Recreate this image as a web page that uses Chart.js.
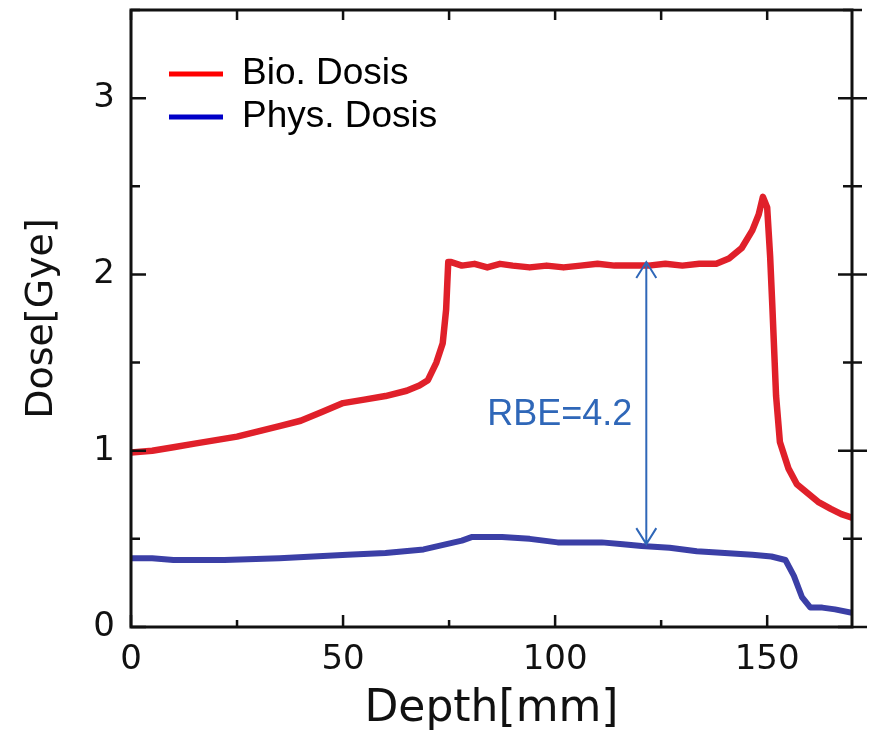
<!DOCTYPE html>
<html>
<head>
<meta charset="utf-8">
<script src="https://cdn.jsdelivr.net/npm/chart.js@4.4.1/dist/chart.umd.min.js"></script>
<style>
  html, body { margin: 0; padding: 0; background: #fff; }
  #wrap { width: 877px; height: 730px; }
</style>
</head>
<body>
<div id="wrap"><canvas id="dose-chart" width="877" height="730"></canvas></div>
<script>
// Werte
const depthBio = [0, 5, 10, 15, 20, 25, 30, 35, 40, 45, 50, 55, 60, 65, 68, 70, 72, 73.5, 74.3, 74.8, 75.5, 78, 81, 84, 87, 90, 94, 98, 102, 106, 110, 114, 118, 122, 126, 130, 134, 138, 141, 144, 146.5, 148, 149, 150, 150.7, 151.2, 152.1, 153, 155, 157, 160, 162, 165, 167.5, 170];
const doseBio = [0.99, 1.0, 1.02, 1.04, 1.06, 1.08, 1.11, 1.14, 1.17, 1.22, 1.27, 1.29, 1.31, 1.34, 1.37, 1.40, 1.50, 1.61, 1.80, 2.07, 2.07, 2.05, 2.06, 2.04, 2.06, 2.05, 2.04, 2.05, 2.04, 2.05, 2.06, 2.05, 2.05, 2.05, 2.06, 2.05, 2.06, 2.06, 2.09, 2.15, 2.25, 2.34, 2.44, 2.38, 2.10, 1.83, 1.31, 1.05, 0.90, 0.81, 0.75, 0.71, 0.67, 0.64, 0.62];

const depthPhys = [0, 5, 10, 22, 35, 51, 60, 69, 74.4, 78, 80.3, 84, 87.5, 94, 100.6, 106, 111, 116, 120.4, 127, 133.4, 140, 146.5, 151, 154.3, 156.3, 158.2, 160.2, 163, 166, 170];
const dosePhys = [0.39, 0.39, 0.38, 0.38, 0.39, 0.41, 0.42, 0.44, 0.47, 0.49, 0.51, 0.51, 0.51, 0.50, 0.48, 0.48, 0.48, 0.47, 0.46, 0.45, 0.43, 0.42, 0.41, 0.40, 0.38, 0.29, 0.17, 0.11, 0.11, 0.10, 0.08];

const seriesNames = ['Bio. Dosis', 'Phys. Dosis'];
const lineColors = ['#e0202a', '#3b3fa6'];
const legendColors = ['#ff0000', '#0000c8'];

const xTickLabels = [0, 50, 100, 150];
const yTickLabels = [0, 1, 2, 3];

// RBE-Pfeil
const arrowDepth = 121.5;
const arrowTop = 2.07;
const arrowBottom = 0.47;
const rbeText = 'RBE=4.2';
const rbeTextDose = 1.20;

const toPoints = (xs, ys) => xs.map((x, i) => ({ x: x, y: ys[i] }));

const axisFont = "'DejaVu Sans', sans-serif";
const inkColor = '#111';

// Rahmen, nach innen zeigende Ticks, Pfeil und Legende
const decorPlugin = {
    id: 'decor',
    afterDatasetsDraw(chart) {
        const { ctx, chartArea: a, scales: { x, y } } = chart;
        ctx.save();

        // Pfeil
        const ax = x.getPixelForValue(arrowDepth);
        const ay1 = y.getPixelForValue(arrowTop);
        const ay2 = y.getPixelForValue(arrowBottom);
        ctx.strokeStyle = '#2f67b8';
        ctx.lineWidth = 2;
        ctx.beginPath();
        ctx.moveTo(ax, ay1);
        ctx.lineTo(ax, ay2);
        ctx.moveTo(ax - 10, ay1 + 16);
        ctx.lineTo(ax, ay1);
        ctx.lineTo(ax + 10, ay1 + 16);
        ctx.moveTo(ax - 10, ay2 - 16);
        ctx.lineTo(ax, ay2);
        ctx.lineTo(ax + 10, ay2 - 16);
        ctx.stroke();

        ctx.fillStyle = '#2f67b8';
        ctx.font = "36px 'Liberation Sans', Arial, sans-serif";
        ctx.textAlign = 'right';
        ctx.textBaseline = 'middle';
        ctx.fillText(rbeText, ax - 14, y.getPixelForValue(rbeTextDose));

        // Legende
        ctx.textAlign = 'left';
        ctx.font = "37px 'Liberation Sans', Arial, sans-serif";
        seriesNames.forEach((name, i) => {
            const ly = a.top + 64 + i * 43;
            ctx.strokeStyle = legendColors[i];
            ctx.lineWidth = 5;
            ctx.beginPath();
            ctx.moveTo(a.left + 38, ly);
            ctx.lineTo(a.left + 92, ly);
            ctx.stroke();
            ctx.fillStyle = '#000';
            ctx.fillText(name, a.left + 111, ly);
        });

        // Ticks
        ctx.strokeStyle = inkColor;
        ctx.lineWidth = 2.5;
        ctx.beginPath();
        x.ticks.forEach(t => {
            if (t.value % 25 !== 0) return;
            const px = x.getPixelForValue(t.value);
            const major = t.value % 50 === 0;
            ctx.moveTo(px, a.bottom);
            ctx.lineTo(px, a.bottom - (major ? 12 : 7));
            ctx.moveTo(px, a.top);
            ctx.lineTo(px, a.top + 10);
        });
        y.ticks.forEach(t => {
            const py = y.getPixelForValue(t.value);
            const major = Number.isInteger(t.value);
            ctx.moveTo(a.left, py);
            ctx.lineTo(a.left + (major ? 15 : 9), py);
            ctx.moveTo(a.right - (major ? 14 : 9), py);
            ctx.lineTo(a.right + (major ? 15 : 10), py);
        });
        ctx.stroke();

        // Rahmen
        ctx.lineWidth = 3;
        ctx.strokeRect(a.left, a.top, a.right - a.left, a.bottom - a.top);
        ctx.restore();
    }
};

const ctxDose = document.getElementById('dose-chart').getContext('2d');

const chartDose = new Chart(ctxDose, {
    type: 'line',
    data: {
        datasets: [
            {
                label: seriesNames[0],
                data: toPoints(depthBio, doseBio),
                borderColor: lineColors[0],
                borderWidth: 6.5,
                pointRadius: 0,
                tension: 0,
                borderJoinStyle: 'round',
                borderCapStyle: 'round'
            },
            {
                label: seriesNames[1],
                data: toPoints(depthPhys, dosePhys),
                borderColor: lineColors[1],
                borderWidth: 6,
                pointRadius: 0,
                tension: 0,
                borderJoinStyle: 'round',
                borderCapStyle: 'round'
            }
        ]
    },
    options: {
        responsive: false,
        animation: false,
        layout: { padding: { top: 10, right: 25, left: 0, bottom: 0 } },
        plugins: {
            legend: { display: false },
            tooltip: { enabled: false }
        },
        scales: {
            x: {
                type: 'linear',
                min: 0,
                max: 170,
                grid: { display: false },
                border: { display: false },
                afterFit: (scale) => {
                    scale.height = 103;
                    scale.paddingLeft = 0;
                    scale.paddingRight = 0;
                },
                ticks: {
                    stepSize: 25,
                    includeBounds: false,
                    padding: 5,
                    color: inkColor,
                    font: { family: axisFont, size: 34 },
                    maxRotation: 0,
                    autoSkip: false,
                    callback: (v) => xTickLabels.includes(v) ? String(v) : ''
                },
                title: {
                    display: true,
                    text: 'Depth[mm]',
                    color: inkColor,
                    font: { family: axisFont, size: 44 },
                    padding: { top: 0, bottom: -6 }
                }
            },
            y: {
                min: 0,
                max: 3.5,
                grid: { display: false },
                border: { display: false },
                afterFit: (scale) => {
                    scale.width = 131;
                    scale.paddingTop = 0;
                    scale.paddingBottom = 0;
                },
                ticks: {
                    stepSize: 0.5,
                    padding: 8,
                    color: inkColor,
                    font: { family: axisFont, size: 34 },
                    autoSkip: false,
                    callback: (v) => yTickLabels.includes(v) ? String(v) : ''
                },
                title: {
                    display: true,
                    text: 'Dose[Gye]',
                    color: inkColor,
                    font: { family: axisFont, size: 38 },
                    padding: { top: 19, bottom: 0 }
                }
            }
        }
    },
    plugins: [decorPlugin]
});
</script>
</body>
</html>
